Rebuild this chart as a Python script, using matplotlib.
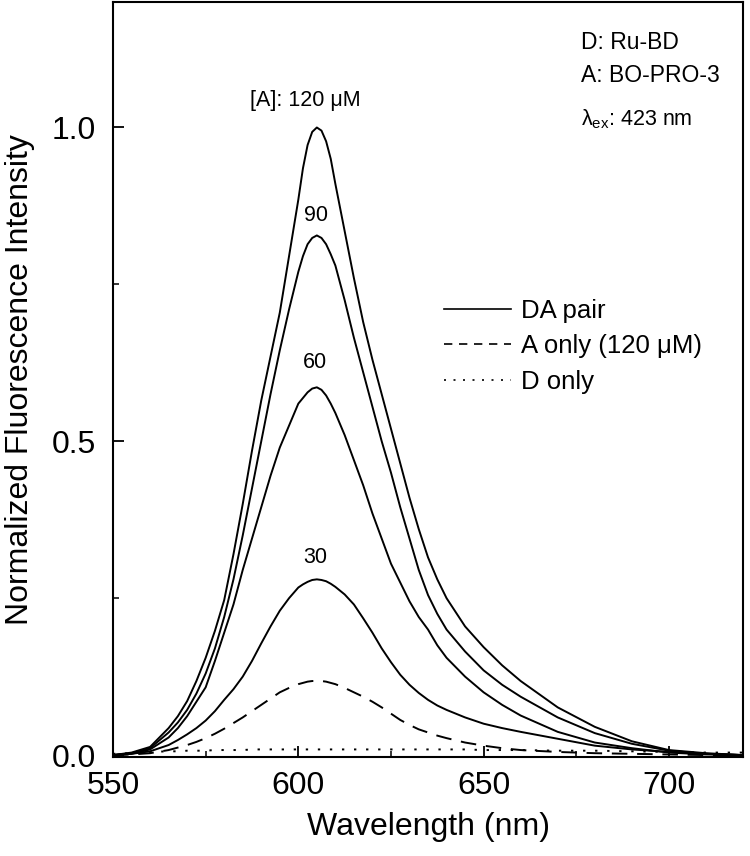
import matplotlib
matplotlib.use('Agg')
import matplotlib.pyplot as plt

plt.rcParams['font.family'] = ['Liberation Sans', 'DejaVu Sans']
plt.rcParams['mathtext.fontset'] = 'custom'
plt.rcParams['mathtext.rm'] = 'Liberation Sans'
plt.rcParams['mathtext.it'] = 'Liberation Sans'

# wavelength grid (nm) and values
wavelength = [550, 555, 560,
              565, 567.5, 570, 572.5, 575, 577.5, 580, 582.5, 585, 587.5,
              590, 592.5, 595, 597.5,
              600, 601.25, 602.5, 603.75, 605, 606.25, 607.5, 608.75, 610,
              612.5, 615, 617.5, 620, 622.5, 625, 627.5, 630, 632.5, 635, 637.5, 640,
              645, 650, 655, 660, 670, 680, 690, 700, 710, 720]

da_120 = [0.0, 0.004, 0.013,
          0.043, 0.062, 0.086, 0.118, 0.155, 0.198, 0.247, 0.32, 0.40, 0.485,
          0.565, 0.635, 0.705, 0.795,
          0.885, 0.935, 0.972, 0.993, 1.0, 0.995, 0.978, 0.95, 0.91,
          0.835, 0.76, 0.69, 0.63, 0.575, 0.52, 0.465, 0.41, 0.36, 0.315, 0.28, 0.25,
          0.205, 0.172, 0.143, 0.118, 0.076, 0.045, 0.022, 0.008, 0.003, 0.0]
da_90 = [0.0, 0.003, 0.011,
         0.036, 0.052, 0.072, 0.098, 0.13, 0.17, 0.22, 0.28, 0.35, 0.425,
         0.5, 0.575, 0.645, 0.71,
         0.77, 0.795, 0.814, 0.824, 0.828, 0.824, 0.814, 0.798, 0.78,
         0.725, 0.665, 0.61, 0.555, 0.5, 0.45, 0.395, 0.345, 0.295, 0.255, 0.225, 0.2,
         0.165, 0.135, 0.112, 0.093, 0.06, 0.035, 0.018, 0.007, 0.002, 0.0]
da_60 = [0.0, 0.002, 0.009,
         0.028, 0.043, 0.062, 0.085, 0.108, 0.15, 0.195, 0.24, 0.295, 0.345,
         0.395, 0.445, 0.49, 0.525,
         0.56, 0.569, 0.578, 0.584, 0.586, 0.582, 0.573, 0.56, 0.545,
         0.51, 0.47, 0.43, 0.385, 0.345, 0.305, 0.275, 0.245, 0.22, 0.2, 0.175, 0.155,
         0.125, 0.1, 0.08, 0.063, 0.037, 0.02, 0.011, 0.004, 0.001, 0.0]
da_30 = [0.0, 0.002, 0.006,
         0.016, 0.024, 0.033, 0.043, 0.055, 0.07, 0.088, 0.105, 0.125, 0.15,
         0.178, 0.205, 0.23, 0.25,
         0.267, 0.272, 0.276, 0.279, 0.28, 0.279, 0.277, 0.273, 0.268,
         0.256, 0.24, 0.218, 0.195, 0.17, 0.148, 0.128, 0.112, 0.099, 0.088, 0.079, 0.072,
         0.06, 0.05, 0.043, 0.037, 0.026, 0.015, 0.009, 0.005, 0.002, 0.0]
a_only = [0.0, 0.001, 0.003,
          0.008, 0.012, 0.016, 0.021, 0.027, 0.034, 0.042, 0.051, 0.06, 0.07,
          0.08, 0.09, 0.1, 0.107,
          0.113, 0.115, 0.117, 0.118, 0.118, 0.118, 0.117, 0.115, 0.113,
          0.107, 0.1, 0.093, 0.085, 0.076, 0.066, 0.056, 0.048, 0.041, 0.036, 0.031, 0.027,
          0.02, 0.015, 0.011, 0.008, 0.005, 0.003, 0.002, 0.001, 0.0, 0.0]
d_only = [0.002, 0.003, 0.005,
          0.006, 0.006, 0.007, 0.007, 0.007, 0.008, 0.008, 0.008, 0.008, 0.009,
          0.009, 0.009, 0.009, 0.009,
          0.009, 0.009, 0.009, 0.009, 0.009, 0.009, 0.009, 0.009, 0.009,
          0.009, 0.009, 0.009, 0.009, 0.009, 0.009, 0.009, 0.009, 0.009, 0.009, 0.009, 0.009,
          0.009, 0.008, 0.008, 0.008, 0.007, 0.007, 0.006, 0.005, 0.004, 0.004]

conc_labels = ['[A]: 120 \u03bcM', '90', '60', '30']
conc_label_pos = [(601.8, 1.043), (604.8, 0.86), (604.5, 0.626), (604.5, 0.315)]

fig = plt.figure(figsize=(7.5, 8.56), dpi=100)
ax = fig.add_axes([0.1507, 0.1157, 0.84, 0.882])

for ys in [da_120, da_90, da_60, da_30]:
    ax.plot(wavelength, ys, color='black', lw=1.4, ls='-')
ax.plot(wavelength, a_only, color='black', lw=1.4, ls=(0, (8, 5)))
ax.plot(wavelength, d_only, color='black', lw=1.4, ls=(0, (1.2, 5)))

# legend built from proxy lines
h1, = ax.plot([], [], color='black', lw=1.2, ls='-', label='DA pair')
h2, = ax.plot([], [], color='black', lw=1.2, ls=(0, (5, 4)), label='A only (120 \u03bcM)')
h3, = ax.plot([], [], color='black', lw=1.2, ls=(0, (1.2, 4.5)), label='D only')
ax.legend(handles=[h1, h2, h3], loc='upper left', bbox_to_anchor=(0.525, 0.607),
          frameon=False, fontsize=18.5, handlelength=2.6, handletextpad=0.4,
          labelspacing=0.45, borderpad=0, borderaxespad=0)

for txt, (x, y) in zip(conc_labels, conc_label_pos):
    ax.text(x, y, txt, ha='center', va='center', fontsize=15.5)

ax.text(676.2, 1.135, 'D: Ru-BD', ha='left', va='center', fontsize=16.5)
ax.text(676.2, 1.083, 'A: BO-PRO-3', ha='left', va='center', fontsize=16.5)
ax.text(676.2, 1.014, r'$\lambda_{\rm ex}$: 423 nm', ha='left', va='center', fontsize=15.5)

ax.set_xlim(550, 720)
ax.set_ylim(-0.003, 1.2)
ax.set_xticks([550, 600, 650, 700])
ax.set_xticks([575, 625, 675], minor=True)
ax.set_yticks([0.0, 0.5, 1.0])
ax.set_yticks([0.25, 0.75], minor=True)
ax.set_yticklabels(['0.0', '0.5', '1.0'])
ax.tick_params(which='major', direction='in', length=8, width=1.3, labelsize=23)
ax.tick_params(axis='y', which='major', pad=12)
ax.tick_params(axis='x', which='major', pad=10)
ax.tick_params(which='minor', direction='in', length=4, width=1.1)
for sp in ax.spines.values():
    sp.set_linewidth(1.5)

ax.set_xlabel('Wavelength (nm)', fontsize=23, labelpad=8)
ax.set_ylabel('Normalized Fluorescence Intensity', fontsize=23, labelpad=12)

fig.savefig('out.png', dpi=100, facecolor='white')
